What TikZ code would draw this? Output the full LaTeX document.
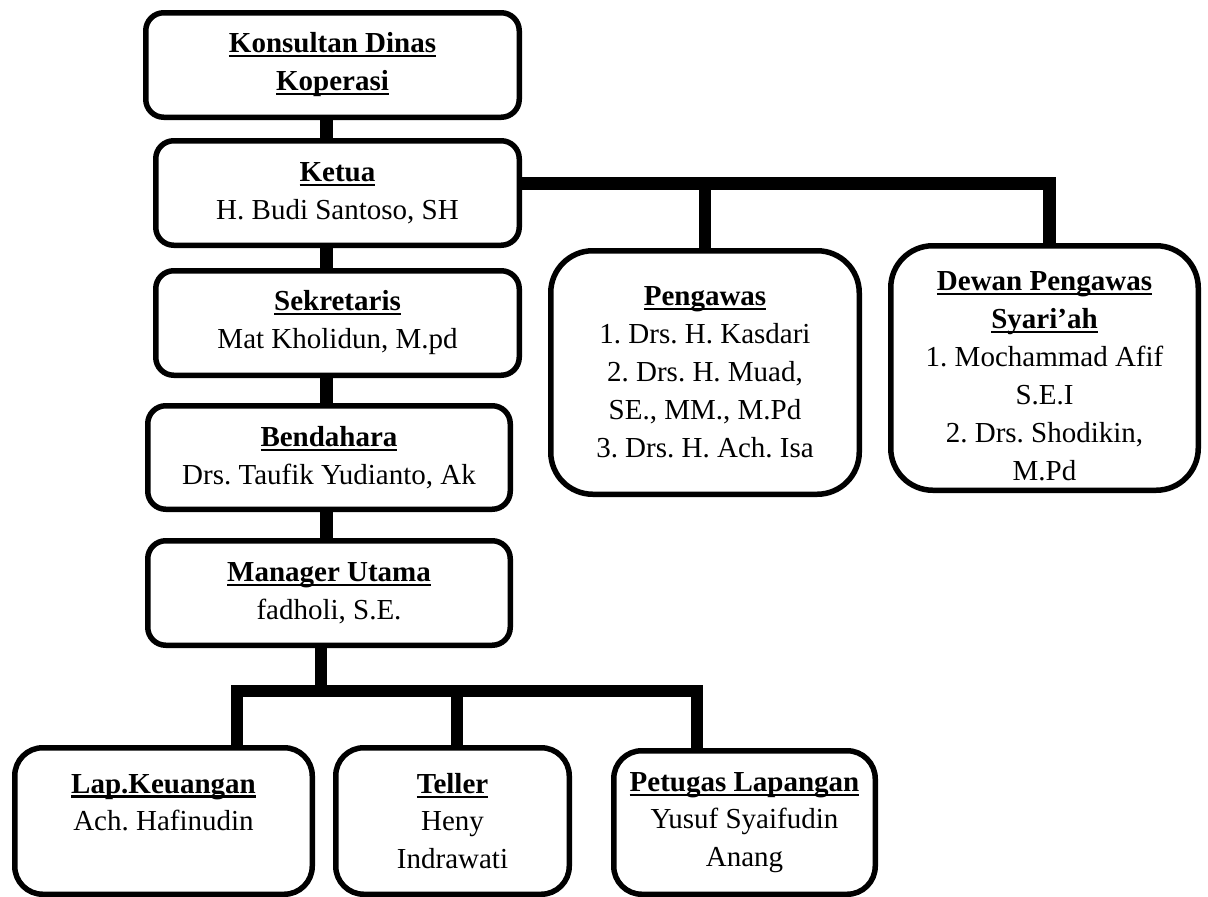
\documentclass[tikz,border=0pt]{standalone}
\usepackage{fontspec}
\setmainfont{Liberation Serif}
\usepackage{tikz}
\usetikzlibrary{
    positioning,
    calc
}
\frenchspacing
\newcommand{\orgfont}{\fontsize{29}{38}\selectfont}
\newcommand{\orgtitle}[1]{{\bfseries\setbox0\hbox{#1}\rlap{\rule[-4.5pt]{\wd0}{2.2pt}}\box0}}
\tikzset{
    obox/.style={
        rectangle, rounded corners=18pt, draw=black, line width=5.5pt,
        fill=white, text=black, align=center, font=\orgfont, inner sep=4pt
    },
    pbox/.style={obox, rounded corners=42pt},
    sbox/.style={obox, rounded corners=28pt, font=\fontsize{29}{37.5}\selectfont},
    otext/.style={align=center, text=black, font=\orgfont, inner sep=0pt},
    oline/.style={line width=12.5pt, draw=black},
}

\begin{document}
\begin{tikzpicture}[x=1pt, y=-1pt]

    \useasboundingbox (0,0) rectangle (1208,897);

    \node [obox, minimum width=373.5pt, minimum height=104.5pt]
        (kons) at (332.5,65) {\orgtitle{Konsultan Dinas}\\ \orgtitle{Koperasi}};
    \node [obox, minimum width=363.5pt, minimum height=104.5pt]
        (ketua) at (337.5,193) {\orgtitle{Ketua}\\ H. Budi Santoso, SH};
    \node [obox, minimum width=363.5pt, minimum height=104.5pt]
        (sekr) at (337.5,323) {\orgtitle{Sekretaris}\\ Mat Kholidun, M.pd};
    \node [obox, minimum width=362.5pt, minimum height=103.5pt]
        (bend) at (329,457.5) {\orgtitle{Bendahara}\\ Drs. Taufik Yudianto, Ak};
    \node [obox, minimum width=362.5pt, minimum height=104.5pt]
        (mgr) at (329,593) {\orgtitle{Manager Utama}\\ fadholi, S.E.};

    \node [pbox, minimum width=308.5pt, minimum height=243.5pt]
        (peng) at (705,372.5) {\orgtitle{Pengawas}\\ 1. Drs. H. Kasdari\\ 2. Drs. H. Muad,\\ SE., MM., M.Pd\\ 3. Drs. H. Ach. Isa};
    \node [pbox, minimum width=307.5pt, minimum height=244.5pt]
        (dewan) at (1044.5,368) {};
    \node [otext] (dewantext) at ([yshift=-8pt]dewan.center)
        {\orgtitle{Dewan Pengawas}\\ \orgtitle{Syari’ah}\\ 1. Mochammad Afif\\ S.E.I\\ 2. Drs. Shodikin,\\ M.Pd};

    \node [sbox, minimum width=297.5pt, minimum height=146.5pt]
        (lap) at (163.5,821) {\orgtitle{Lap.Keuangan}\\ Ach. Hafinudin\\ \mbox{}};
    \node [sbox, minimum width=233.5pt, minimum height=146.5pt]
        (teller) at (452.5,821) {\orgtitle{Teller}\\ Heny\\ Indrawati};
    \node [sbox, minimum width=261.5pt, minimum height=143.5pt]
        (petugas) at (744.5,822.5) {\orgtitle{Petugas Lapangan}\\ Yusuf Syaifudin\\ Anang};

    \coordinate (spine) at (326.5,0);
    \coordinate (dpeng) at (705,183.5);
    \coordinate (ddewan) at (1049.5,183.5);
    \coordinate (bmgr) at (321,691);
    \coordinate (dlap) at (237,691);
    \coordinate (dteller) at (457,691);
    \coordinate (dpetugas) at (697,691);

    \draw [oline] (kons.south -| spine) -- (ketua.north -| spine);
    \draw [oline] (ketua.south -| spine) -- (sekr.north -| spine);
    \draw [oline] (sekr.south -| spine) -- (bend.north -| spine);
    \draw [oline] (bend.south -| spine) -- (mgr.north -| spine);

    \draw [oline] (ketua.east |- dpeng) -- (ddewan) -- (dewan.north -| ddewan);
    \draw [oline] (dpeng) -- (peng.north -| dpeng);

    \draw [oline] (mgr.south -| bmgr) -- (bmgr);
    \draw [oline] (lap.north -| dlap) -- (dlap) -- (dpetugas) -- (petugas.north -| dpetugas);
    \draw [oline] (dteller) -- (teller.north -| dteller);

\end{tikzpicture}
\end{document}
